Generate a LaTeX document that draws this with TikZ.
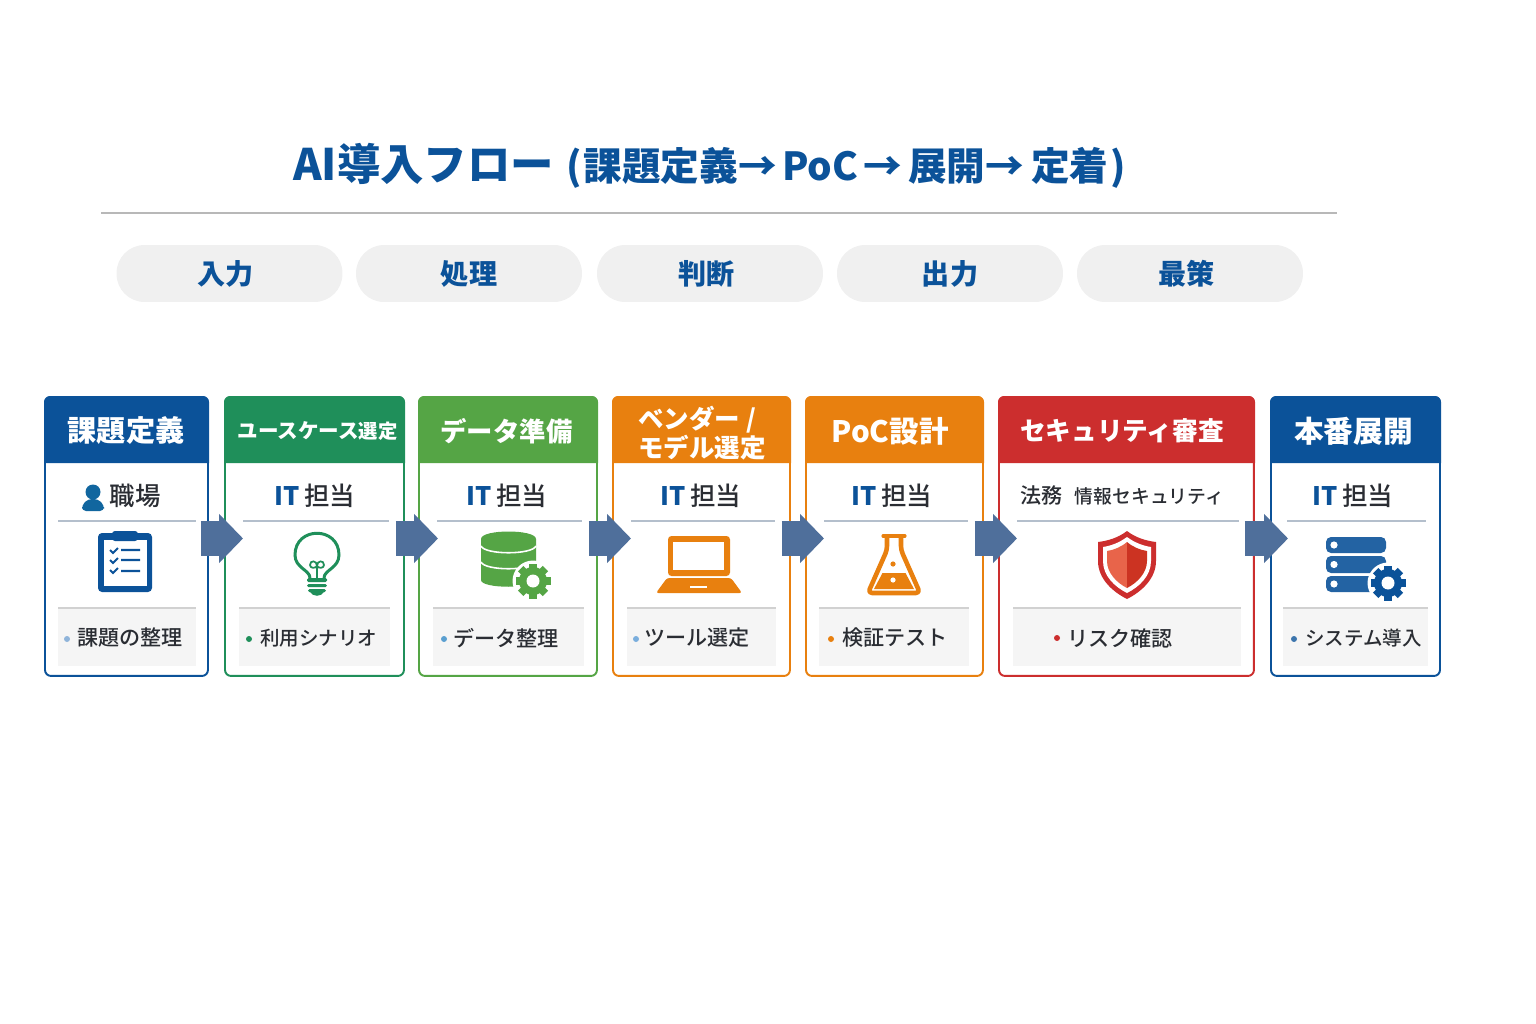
\documentclass[tikz,border=0pt]{standalone}
\usepackage{fontspec}
\setmainfont{Noto Sans CJK JP}
\newfontface\medfont{Noto Sans CJK JP Medium}
\usepackage[HTML]{xcolor}
\usepackage{tikz}
\usetikzlibrary{arrows.meta}

\definecolor{navyA}{HTML}{0B5299}
\definecolor{greenA}{HTML}{1F8F5A}
\definecolor{greenB}{HTML}{55A545}
\definecolor{orangeA}{HTML}{E8800F}
\definecolor{redA}{HTML}{CC2E2E}
\definecolor{inkA}{HTML}{2A2D33}
\definecolor{flowA}{HTML}{4F6F9B}
\definecolor{sepA}{HTML}{B4BFCC}
\definecolor{personA}{HTML}{11669F}
\definecolor{dotA}{HTML}{8FB4DA}
\definecolor{dotB}{HTML}{5A9FD0}
\definecolor{dotC}{HTML}{7AAEDD}
\definecolor{shieldL}{HTML}{E8644A}
\definecolor{shieldR}{HTML}{CC3322}

\begin{document}
\begin{tikzpicture}[x=0.02cm, y=-0.02cm,
  pill/.style={fill=black!6, rounded corners=0.56cm, minimum width=4.52cm, minimum height=1.14cm, inner sep=0pt, text=navyA, font=\bfseries\fontsize{16}{20}\selectfont},
  cardframe/.style={draw=#1, fill=white, line width=1.1pt, rounded corners=0.12cm, anchor=north west, minimum height=5.58cm, inner sep=0pt, outer sep=0pt},
  headtext/.style={text=white, inner sep=0pt, align=center, font=\bfseries\fontsize{16.6}{20}\selectfont},
  roletext/.style={text=inkA, inner sep=0pt, font=\medfont\fontsize{14.5}{18}\selectfont},
  itemtext/.style={text=inkA, anchor=west, inner sep=0pt, font=\medfont\fontsize{12}{15}\selectfont},
  sepline/.style={draw=sepA, line width=0.6pt},
  itembox/.style={fill=black!4},
  itemtop/.style={draw=black!18, line width=0.7pt},
  flowarrow/.style={draw=flowA, line width=0.7cm, -{Triangle[length=0.48cm, width=0.96cm]}},
  pics/gearicon/.style={code={
    \fill[white] (0,0) circle (20.5);
    \foreach \a in {0,45,...,315} \fill[#1, rotate=\a] (-3.8,-17.5) rectangle (3.8,-10);
    \fill[#1] (0,0) circle (14);
    \fill[white] (0,0) circle (6.5);
  }}]
\useasboundingbox (0,0) rectangle (1536,1024);

% --- Title and rule ---
\node[anchor=west, inner sep=0pt, text=navyA, font=\bfseries\fontsize{22}{26}\selectfont] (title) at (293,166)
  {{\fontsize{24.7}{26}\selectfont AI導入フロー}\hspace{7pt}(\hspace{1pt}課題定義→\hspace{3pt}PoC\hspace{3pt}→\hspace{3.5pt}展開→\hspace{4pt}定着\hspace{1pt})};
\coordinate (ruleL) at (101,213);
\coordinate (ruleR) at (1337,213);
\draw[black!28, line width=1.1pt] (ruleL) -- (ruleR);

% --- Stage pills ---
\node[pill] (pill1) at (229.5,273.5) {入力\kern4pt};
\node[pill] (pill2) at (469,273.5) {処理};
\node[pill] (pill3) at (710,273.5) {判断\kern4pt};
\node[pill] (pill4) at (950,273.5) {出力};
\node[pill] (pill5) at (1190,273.5) {最策\kern4pt};

% --- Card 1 ---
\node[cardframe=navyA, minimum width=3.26cm] (card1) at (45,397) {};
\fill[navyA] (44,463) [rounded corners=0.12cm] -- (44,396) -- (209,396) [sharp corners] -- (209,463) -- cycle;
\node[headtext] (head1) at (126,431) {課題定義};
\node[roletext] (role1) at (135,496) {職場};
\fill[personA] (93,492) circle (7.5);
\fill[personA, rounded corners=0.08cm] (82,511) -- (82,505) -- (88,499) -- (98,499) -- (104,505) -- (104,511) -- cycle;
\draw[sepline] (58,521) -- (196,521);
\fill[navyA, rounded corners=0.08cm] (98,533) rectangle (152,592);
\fill[white] (104,540) rectangle (147,586);
\fill[navyA, rounded corners=0.06cm] (112,531) rectangle (138,541);
\draw[navyA, line width=1.2pt] (110,550) -- (113,553) -- (118,548) (121,550) -- (140,550)
  (110,560) -- (113,563) -- (118,558) (121,560) -- (140,560)
  (110,570) -- (113,573) -- (118,568) (121,571) -- (140,571);
\fill[itembox] (58,608) rectangle (196,666);
\draw[itemtop] (58,608) -- (196,608);
\fill[dotA] (67,639) circle (3);
\node[itemtext] (item1) at (77,638) {課題の整理};

% --- Card 2 ---
\node[cardframe=greenA, minimum width=3.58cm] (card2) at (225,397) {};
\fill[greenA] (224,463) [rounded corners=0.12cm] -- (224,396) -- (405,396) [sharp corners] -- (405,463) -- cycle;
\node[headtext, font=\bfseries\fontsize{11.7}{16}\selectfont] (head2) at (317.5,431) {ユースケース{\fontsize{11}{14}\selectfont 選定}};
\node[roletext] (role2) at (315,496) {{\normalfont\bfseries\color{navyA}IT}\,担当};
\draw[sepline] (243,521) -- (389,521);
\begin{scope}[shift={(317,555)}]
\draw[greenA, line width=1.7pt] (-7,23) .. controls (-7,15) and (-22,13) .. (-22,0) .. controls (-22,-29) and (22,-29) .. (22,0) .. controls (22,13) and (7,15) .. (7,23);
\draw[greenA, line width=1pt] (0,23) -- (0,11) (0,11) .. controls (0,5) and (-7,5) .. (-7,10) .. controls (-7,13) and (-2,14) .. (0,11) .. controls (2,14) and (7,13) .. (7,10) .. controls (7,5) and (0,5) .. (0,11);
\fill[greenA, rounded corners=0.03cm] (-10,23) rectangle (10,27);
\fill[greenA, rounded corners=0.03cm] (-10,29) rectangle (10,32);
\fill[greenA, rounded corners=0.03cm] (-9,34) rectangle (9,37);
\fill[greenA] (-7,37) .. controls (-4,42) and (4,42) .. (7,37) -- cycle;
\end{scope}
\fill[itembox] (239,608) rectangle (390,666);
\draw[itemtop] (239,608) -- (390,608);
\fill[greenA] (249,639) circle (3);
\node[itemtext, font=\medfont\fontsize{11.1}{15}\selectfont] (item2) at (260,638) {利用シナリオ};

% --- Card 3 ---
\node[cardframe=greenB, minimum width=3.56cm] (card3) at (419,397) {};
\fill[greenB] (418,463) [rounded corners=0.12cm] -- (418,396) -- (598,396) [sharp corners] -- (598,463) -- cycle;
\node[headtext, font=\bfseries\fontsize{15}{18}\selectfont] (head3) at (506.5,431) {データ準備};
\node[roletext] (role3) at (507,496) {{\normalfont\bfseries\color{navyA}IT}\,担当};
\draw[sepline] (437,521) -- (582,521);
\fill[greenB] (481,539) -- (481,580) .. controls (481,589) and (536,589) .. (536,580) -- (536,539) .. controls (536,529) and (481,529) .. (481,539) -- cycle;
\draw[white, line width=0.9pt] (481,546) .. controls (485,555) and (532,555) .. (536,546)
  (481,562) .. controls (485,571) and (532,571) .. (536,562);
\pic at (533,581) {gearicon=greenB};
\fill[itembox] (433,608) rectangle (584,666);
\draw[itemtop] (433,608) -- (584,608);
\fill[dotB] (444,639) circle (3);
\node[itemtext] (item3) at (453,638) {データ整理};

% --- Card 4 ---
\node[cardframe=orangeA, minimum width=3.54cm] (card4) at (613,397) {};
\fill[orangeA] (612,463) [rounded corners=0.12cm] -- (612,396) -- (791,396) [sharp corners] -- (791,463) -- cycle;
\node[headtext, align=left, font=\bfseries\fontsize{14.5}{16.5}\selectfont] (head4) at (702,433) {ベンダー /\\モデル選定};
\node[roletext] (role4) at (701,496) {{\normalfont\bfseries\color{navyA}IT}\,担当};
\draw[sepline] (631,521) -- (775,521);
\fill[orangeA, rounded corners=0.07cm] (668,536) rectangle (730,576);
\fill[white] (673,542) rectangle (724,570);
\fill[orangeA, rounded corners=0.05cm] (667,578) -- (731,578) -- (742,593) -- (656,593) -- cycle;
\fill[white] (690,586) rectangle (707,588);
\fill[itembox] (627,608) rectangle (776,666);
\draw[itemtop] (627,608) -- (776,608);
\fill[dotC] (636,639) circle (3);
\node[itemtext] (item4) at (644,638) {ツール選定};

% --- Card 5 ---
\node[cardframe=orangeA, minimum width=3.54cm] (card5) at (806,397) {};
\fill[orangeA] (805,463) [rounded corners=0.12cm] -- (805,396) -- (984,396) [sharp corners] -- (984,463) -- cycle;
\node[headtext, font=\bfseries\fontsize{16.8}{20}\selectfont] (head5) at (890,431) {PoC設計};
\node[roletext] (role5) at (892,496) {{\normalfont\bfseries\color{navyA}IT}\,担当};
\draw[sepline] (824,521) -- (968,521);
\begin{scope}[shift={(894,565)}]
\draw[orangeA, line width=1.8pt, line cap=round] (-11,-29) -- (11,-29);
\fill[orangeA] (-11.5,8) -- (11.5,8) -- (20,24) -- (-20,24) -- cycle;
\draw[orangeA, line width=2.6pt, line join=round, rounded corners=0.08cm] (-7,-28) -- (-7,-15) -- (-26,28) -- (26,28) -- (7,-15) -- (7,-28);
\fill[orangeA] (-1,-1) circle (2.6);
\fill[white] (-1,15) circle (2.6);
\end{scope}
\fill[itembox] (819,608) rectangle (969,666);
\draw[itemtop] (819,608) -- (969,608);
\fill[orangeA] (831,639) circle (3);
\node[itemtext] (item5) at (842,638) {検証テスト};

% --- Card 6 ---
\node[cardframe=redA, minimum width=5.1cm] (card6) at (999,397) {};
\fill[redA] (998,463) [rounded corners=0.12cm] -- (998,396) -- (1255,396) [sharp corners] -- (1255,463) -- cycle;
\node[headtext, font=\bfseries\fontsize{14.6}{18}\selectfont] (head6) at (1122,431) {セキュリティ審査};
\node[roletext, anchor=west, font=\medfont\fontsize{10.7}{14}\selectfont] (role6) at (1020,495) {{\fontsize{12}{14}\selectfont 法務}\hspace{7pt}情報セキュリティ};
\draw[sepline] (1017,521) -- (1239,521);
\begin{scope}[shift={(1127,565)}]
\fill[redA] (0,-34) .. controls (-9,-27) and (-20,-24) .. (-29,-23) -- (-29,-4) .. controls (-29,14) and (-14,27) .. (0,34) .. controls (14,27) and (29,14) .. (29,-4) -- (29,-23) .. controls (20,-24) and (9,-27) .. (0,-34) -- cycle;
\fill[white] (0,-28) .. controls (-8,-22) and (-17,-19) .. (-24,-18) -- (-24,-4) .. controls (-24,11) and (-12,22) .. (0,28) .. controls (12,22) and (24,11) .. (24,-4) -- (24,-18) .. controls (17,-19) and (8,-22) .. (0,-28) -- cycle;
\fill[shieldL] (0,-23) .. controls (-6,-18) and (-13,-15) .. (-20,-14) -- (-20,-4) .. controls (-20,8) and (-10,18) .. (0,23) -- cycle;
\fill[shieldR] (0,-23) .. controls (6,-18) and (13,-15) .. (20,-14) -- (20,-4) .. controls (20,8) and (10,18) .. (0,23) -- cycle;
\end{scope}
\fill[itembox] (1013,608) rectangle (1241,666);
\draw[itemtop] (1013,608) -- (1241,608);
\fill[redA] (1057,638) circle (3);
\node[itemtext] (item6) at (1067,638) {リスク確認};

% --- Card 7 ---
\node[cardframe=navyA, minimum width=3.38cm] (card7) at (1271,397) {};
\fill[navyA] (1270,463) [rounded corners=0.12cm] -- (1270,396) -- (1441,396) [sharp corners] -- (1441,463) -- cycle;
\node[headtext, font=\bfseries\fontsize{16.9}{20}\selectfont] (head7) at (1353.5,431) {本番展開};
\node[roletext] (role7) at (1353,496) {{\normalfont\bfseries\color{navyA}IT}\,担当};
\draw[sepline] (1287,521) -- (1426,521);
\fill[navyA!90!white, rounded corners=0.1cm] (1326,537) rectangle (1386,553);
\fill[navyA!90!white, rounded corners=0.1cm] (1326,556) rectangle (1386,573);
\fill[navyA!90!white, rounded corners=0.1cm] (1326,576) rectangle (1386,592);
\fill[white] (1334,545) circle (3.6) (1334,564.5) circle (3.6) (1334,584) circle (3.6);
\pic at (1388,583) {gearicon=navyA};
\fill[itembox] (1283,608) rectangle (1428,666);
\draw[itemtop] (1283,608) -- (1428,608);
\fill[navyA!80!white] (1294,639) circle (3);
\node[itemtext, font=\medfont\fontsize{11.1}{15}\selectfont] (item7) at (1305,638) {システム導入};

% --- Flow arrows ---
\draw[flowarrow] ([xshift=-0.14cm, yshift=-0.04cm]card1.east) -- ([xshift=0.36cm, yshift=-0.04cm]card2.west);
\draw[flowarrow] ([xshift=-0.16cm, yshift=-0.04cm]card2.east) -- ([xshift=0.38cm, yshift=-0.04cm]card3.west);
\draw[flowarrow] ([xshift=-0.16cm, yshift=-0.04cm]card3.east) -- ([xshift=0.36cm, yshift=-0.04cm]card4.west);
\draw[flowarrow] ([xshift=-0.16cm, yshift=-0.04cm]card4.east) -- ([xshift=0.36cm, yshift=-0.04cm]card5.west);
\draw[flowarrow] ([xshift=-0.16cm, yshift=-0.04cm]card5.east) -- ([xshift=0.36cm, yshift=-0.04cm]card6.west);
\draw[flowarrow] ([xshift=-0.18cm, yshift=-0.04cm]card6.east) -- ([xshift=0.34cm, yshift=-0.04cm]card7.west);

\end{tikzpicture}
\end{document}
